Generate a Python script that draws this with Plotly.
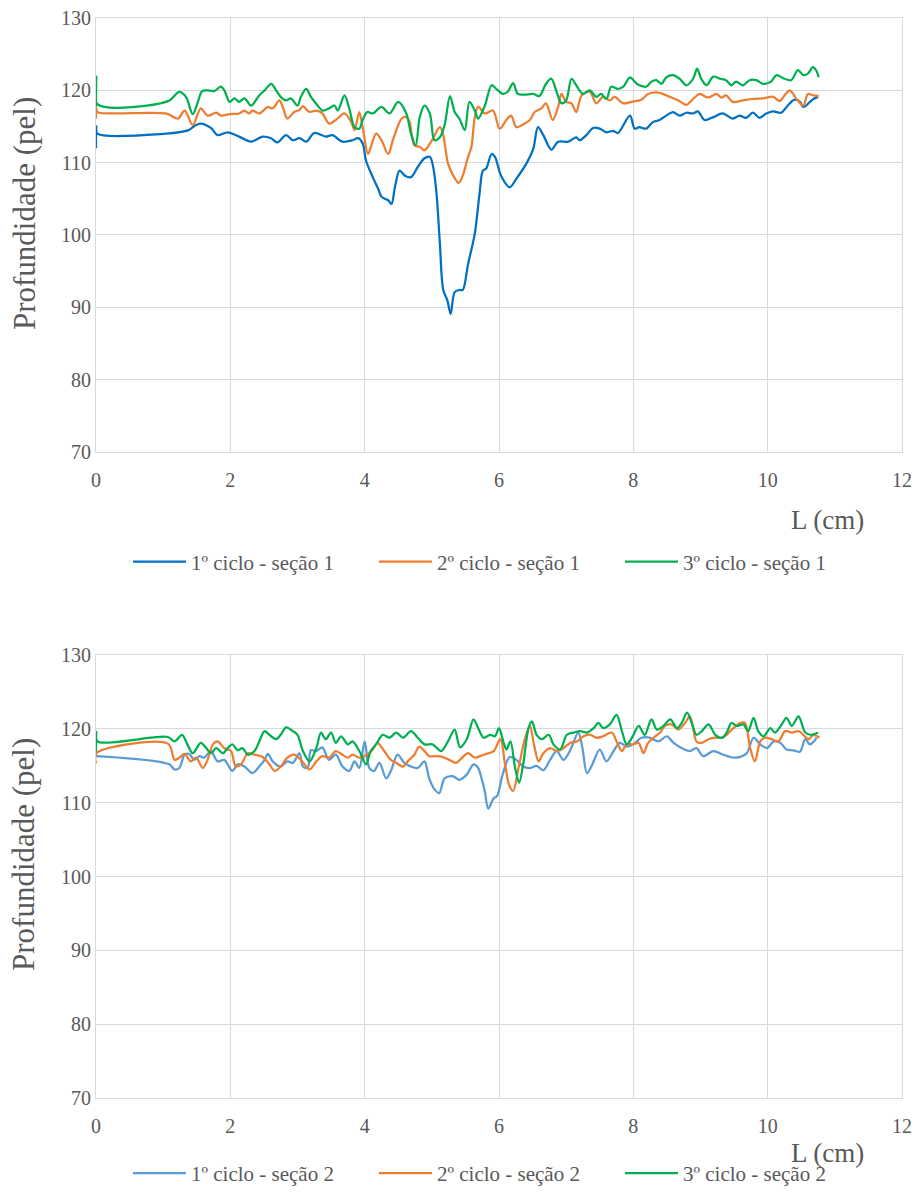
import plotly.graph_objects as go

# ---------------- Section 1 (top chart) ----------------
s1_c1_x = [0, 0.005, 0.02, 1.04, 1.29, 1.38, 1.49, 1.56, 1.71, 1.81,
           1.96, 2.13, 2.31, 2.48, 2.6, 2.7, 2.83, 2.93, 3.03, 3.13,
           3.25, 3.42, 3.52, 3.67, 3.82, 3.9, 3.97, 4.02, 4.12, 4.2,
           4.25, 4.3, 4.35, 4.4, 4.45, 4.52, 4.6, 4.69, 4.79, 4.89,
           4.97, 5.02, 5.07, 5.12, 5.17, 5.23, 5.28, 5.34, 5.41, 5.46,
           5.54, 5.64, 5.71, 5.76, 5.81, 5.89, 5.94, 6.03, 6.16, 6.26,
           6.41, 6.51, 6.58, 6.66, 6.78, 6.88, 7.03, 7.15, 7.2, 7.3,
           7.4, 7.5, 7.6, 7.7, 7.77, 7.95, 8.02, 8.09, 8.19, 8.29,
           8.39, 8.49, 8.59, 8.69, 8.79, 8.89, 8.96, 9.06, 9.19, 9.33,
           9.48, 9.58, 9.68, 9.78, 9.88, 9.98, 10.08, 10.2, 10.3, 10.4,
           10.48, 10.53, 10.63, 10.68, 10.75]
s1_c1_y = [112, 115, 114, 114, 114.3, 114.5, 115.2, 115.4, 114.8, 113.8,
           114.2, 113.6, 112.9, 113.6, 113.4, 112.8, 113.8, 113.1, 113.4, 112.9,
           114.1, 113.6, 113.8, 112.9, 113.1, 113.4, 112.7, 110.3, 108.0, 106.4,
           105.3, 105.0, 104.8, 104.3, 106.6, 108.9, 108.2, 108.0, 109.4, 110.6,
           110.8, 109.4, 105.7, 98.8, 92.4, 91.0, 89.1, 92.1, 92.4, 92.4,
           96.0, 100.2, 105.7, 108.9, 109.2, 111.2, 110.8, 108.2, 106.6, 107.8,
           109.9, 111.9, 114.9, 113.8, 111.8, 112.9, 112.9, 113.5, 113.1, 113.8,
           114.8, 114.7, 114.2, 114.4, 114.1, 116.5, 114.7, 114.9, 114.7, 115.6,
           115.9, 116.5, 117.0, 116.5, 116.9, 116.8, 117.1, 115.9, 116.3, 116.8,
           116.1, 116.5, 116.2, 116.9, 116.2, 116.8, 117.1, 116.9, 117.9, 118.7,
           118.4, 117.7, 118.4, 118.8, 119.1]

s1_c2_x = [0, 0.005, 0.02, 1.04, 1.22, 1.32, 1.44, 1.56, 1.66, 1.79,
           1.86, 1.99, 2.13, 2.21, 2.28, 2.33, 2.43, 2.56, 2.63, 2.73,
           2.78, 2.85, 2.95, 3.03, 3.08, 3.18, 3.28, 3.37, 3.47, 3.57,
           3.7, 3.8, 3.85, 3.92, 3.97, 4.05, 4.1, 4.17, 4.25, 4.35,
           4.42, 4.5, 4.55, 4.62, 4.67, 4.74, 4.82, 4.89, 4.99, 5.12,
           5.17, 5.24, 5.32, 5.4, 5.46, 5.54, 5.59, 5.64, 5.69, 5.79,
           5.91, 6.01, 6.11, 6.18, 6.26, 6.38, 6.46, 6.53, 6.63, 6.7,
           6.8, 6.88, 6.93, 7.0, 7.08, 7.15, 7.23, 7.35, 7.45, 7.55,
           7.65, 7.72, 7.85, 7.97, 8.12, 8.22, 8.34, 8.44, 8.54, 8.69,
           8.79, 8.89, 8.99, 9.11, 9.24, 9.31, 9.38, 9.48, 9.63, 9.78,
           9.93, 10.08, 10.18, 10.25, 10.33, 10.43, 10.53, 10.6, 10.68, 10.76]
s1_c2_y = [116.1, 117.5, 117.0, 116.8, 116.1, 117.2, 115.2, 117.5, 116.5, 116.9,
           116.5, 116.7, 116.8, 117.2, 116.8, 117.2, 116.8, 117.7, 117.5, 118.6,
           117.7, 116.1, 117.0, 117.3, 117.8, 117.0, 117.2, 116.8, 115.4, 115.9,
           116.8, 115.6, 114.5, 117.0, 114.9, 111.2, 112.4, 114.0, 113.1, 111.2,
           113.1, 115.2, 116.1, 116.3, 115.6, 112.4, 112.2, 111.7, 112.9, 114.9,
           113.8, 109.9, 108.2, 107.2, 108.2, 110.8, 112.2, 116.3, 117.7, 116.8,
           117.2, 114.7, 115.9, 116.5, 114.9, 115.4, 115.9, 117.0, 117.5, 118.2,
           115.9, 117.7, 119.5, 118.4, 118.2, 117.0, 119.3, 119.8, 118.2, 119.1,
           118.6, 119.1, 118.2, 118.4, 118.7, 119.5, 119.7, 119.5, 119.1, 118.5,
           118.0, 118.8, 119.5, 119.0, 119.5, 119.0, 119.3, 118.4, 118.6, 118.8,
           118.9, 119.1, 118.5, 119.3, 120.0, 118.8, 117.9, 119.5, 119.3, 119.2]

s1_c3_x = [0, 0.005, 0.02, 1.07, 1.24, 1.34, 1.44, 1.51, 1.58, 1.66,
           1.76, 1.86, 1.91, 1.99, 2.06, 2.13, 2.21, 2.31, 2.43, 2.51,
           2.61, 2.68, 2.75, 2.83, 2.9, 3.0, 3.05, 3.13, 3.2, 3.3,
           3.37, 3.47, 3.55, 3.6, 3.7, 3.77, 3.85, 3.92, 3.97, 4.04,
           4.12, 4.25, 4.37, 4.5, 4.62, 4.69, 4.76, 4.82, 4.89, 4.97,
           5.04, 5.12, 5.19, 5.27, 5.34, 5.41, 5.49, 5.56, 5.64, 5.69,
           5.79, 5.89, 5.96, 6.06, 6.13, 6.21, 6.28, 6.38, 6.51, 6.6,
           6.7, 6.78, 6.85, 6.93, 7.0, 7.08, 7.15, 7.25, 7.35, 7.45,
           7.52, 7.6, 7.67, 7.77, 7.85, 7.95, 8.04, 8.09, 8.19, 8.27,
           8.34, 8.42, 8.49, 8.59, 8.69, 8.79, 8.89, 8.95, 9.01, 9.09,
           9.19, 9.29, 9.38, 9.46, 9.53, 9.63, 9.73, 9.83, 9.93, 10.05,
           10.13, 10.25, 10.35, 10.45, 10.53, 10.6, 10.67, 10.72, 10.76]
s1_c3_y = [117.7, 121.9, 118.1, 118.5, 119.8, 119.1, 116.7, 118.2, 119.9, 120.0,
           119.9, 120.5, 120.0, 118.4, 118.9, 118.4, 118.9, 117.9, 119.3, 120.0,
           120.9, 120.0, 119.1, 118.6, 118.9, 117.9, 119.1, 120.2, 119.1, 117.9,
           117.2, 117.5, 117.9, 117.2, 119.3, 117.5, 114.9, 114.7, 115.9, 117.0,
           116.8, 117.7, 116.8, 118.4, 116.8, 114.0, 112.4, 116.3, 117.9, 116.8,
           113.1, 113.5, 115.2, 119.2, 117.0, 116.1, 114.5, 118.4, 117.2, 116.1,
           117.9, 120.7, 120.2, 119.5, 119.8, 121.0, 119.5, 119.4, 119.5, 119.2,
           120.9, 121.6, 120.0, 118.2, 118.6, 121.6, 120.7, 119.5, 120.0, 119.1,
           119.5, 118.8, 120.5, 120.2, 120.5, 121.8, 121.0, 120.7, 120.5, 121.2,
           121.4, 120.9, 121.8, 122.1, 121.6, 120.7, 121.6, 123.0, 121.6, 120.7,
           121.9, 121.6, 121.4, 120.7, 121.2, 120.7, 121.4, 121.4, 120.9, 121.2,
           122.1, 121.6, 121.4, 122.8, 122.1, 122.3, 123.2, 122.8, 121.8]

# ---------------- Section 2 (bottom chart) ----------------
s2_c1_x = [0, 1.09, 1.17, 1.24, 1.32, 1.39, 1.46, 1.54, 1.61, 1.71,
           1.81, 1.91, 2.03, 2.11, 2.21, 2.33, 2.43, 2.51, 2.56, 2.63,
           2.75, 2.85, 2.93, 3.03, 3.08, 3.15, 3.2, 3.28, 3.37, 3.47,
           3.57, 3.67, 3.77, 3.85, 3.92, 4.0, 4.07, 4.14, 4.22, 4.32,
           4.39, 4.49, 4.59, 4.69, 4.79, 4.89, 4.96, 5.04, 5.11, 5.19,
           5.31, 5.41, 5.52, 5.62, 5.69, 5.74, 5.79, 5.84, 5.92, 5.97,
           6.06, 6.16, 6.26, 6.36, 6.46, 6.56, 6.66, 6.76, 6.86, 6.96,
           7.06, 7.18, 7.24, 7.31, 7.38, 7.5, 7.6, 7.7, 7.8, 7.9,
           8.0, 8.12, 8.25, 8.37, 8.5, 8.6, 8.72, 8.84, 8.94, 9.04,
           9.19, 9.34, 9.49, 9.59, 9.69, 9.79, 9.89, 9.99, 10.09, 10.19,
           10.28, 10.38, 10.48, 10.56, 10.63, 10.73]
s2_c1_y = [116.3, 115.2, 114.5, 114.7, 116.5, 116.6, 115.8, 116.3, 116.1, 117.0,
           115.6, 115.8, 114.3, 115.2, 114.9, 114.0, 114.9, 115.8, 116.6, 115.6,
           114.9, 115.6, 115.4, 116.7, 114.9, 114.7, 117.1, 117.0, 117.5, 115.8,
           116.5, 114.9, 114.3, 115.6, 114.7, 118.3, 114.7, 114.3, 115.4, 113.3,
           114.3, 116.5, 115.4, 114.9, 114.7, 115.6, 113.3, 111.8, 111.3, 113.3,
           113.6, 113.1, 113.8, 115.2, 114.7, 113.3, 111.5, 109.2, 110.6, 110.9,
           114.0, 116.2, 115.8, 114.9, 114.7, 115.0, 114.4, 115.8, 117.0, 115.8,
           117.1, 119.5, 117.5, 114.0, 115.0, 117.2, 115.6, 116.9, 118.1, 117.6,
           117.9, 118.8, 118.8, 118.3, 119.0, 118.1, 117.4, 117.0, 117.4, 116.3,
           117.0, 116.5, 116.1, 116.2, 116.7, 118.8, 117.9, 117.4, 118.3, 118.1,
           117.2, 117.1, 116.9, 118.6, 117.9, 118.8]

s2_c2_x = [0, 0.005, 1.07, 1.17, 1.24, 1.32, 1.41, 1.49, 1.59, 1.66,
           1.74, 1.81, 1.91, 2.01, 2.08, 2.16, 2.26, 2.36, 2.48, 2.58,
           2.66, 2.75, 2.85, 2.95, 3.05, 3.18, 3.28, 3.37, 3.47, 3.57,
           3.67, 3.75, 3.82, 3.92, 4.04, 4.12, 4.19, 4.29, 4.39, 4.47,
           4.57, 4.64, 4.74, 4.81, 4.89, 4.96, 5.06, 5.16, 5.26, 5.36,
           5.44, 5.54, 5.64, 5.77, 5.92, 6.02, 6.09, 6.15, 6.21, 6.29,
           6.39, 6.46, 6.52, 6.59, 6.66, 6.76, 6.86, 6.96, 7.06, 7.16,
           7.26, 7.36, 7.45, 7.55, 7.68, 7.75, 7.83, 7.9, 8.0, 8.08,
           8.15, 8.22, 8.3, 8.4, 8.47, 8.57, 8.67, 8.77, 8.84, 8.89,
           8.94, 9.02, 9.12, 9.22, 9.32, 9.39, 9.49, 9.59, 9.66, 9.74,
           9.81, 9.89, 9.96, 10.06, 10.16, 10.26, 10.36, 10.46, 10.53, 10.61,
           10.68, 10.77]
s2_c2_y = [115.3, 116.7, 118.0, 115.8, 116.1, 116.6, 115.6, 116.1, 114.7, 115.8,
           117.9, 118.3, 117.4, 117.0, 114.9, 115.2, 116.7, 116.5, 116.2, 115.2,
           114.3, 114.9, 116.1, 116.5, 115.8, 114.5, 115.6, 116.3, 116.1, 117.0,
           116.5, 116.1, 116.5, 116.1, 116.5, 117.2, 118.1, 117.0, 115.8, 115.4,
           114.9, 115.6, 116.5, 117.6, 117.0, 116.3, 116.3, 116.2, 115.8, 115.4,
           116.0, 116.7, 116.1, 116.5, 117.0, 118.6, 115.2, 112.4, 111.6, 114.7,
           118.8, 120.4, 117.9, 115.6, 116.7, 117.4, 117.0, 117.4, 118.1, 118.3,
           119.0, 119.2, 118.8, 119.0, 119.5, 118.3, 117.0, 117.9, 117.9, 118.1,
           116.7, 118.1, 118.8, 119.5, 120.4, 120.6, 119.9, 120.8, 121.7, 120.1,
           118.3, 118.1, 118.6, 118.8, 118.8, 119.2, 120.1, 120.8, 120.8, 117.4,
           115.6, 118.3, 118.8, 118.6, 118.3, 119.7, 119.5, 119.7, 119.2, 118.6,
           119.2, 118.8]

s2_c3_x = [0, 0.005, 0.02, 1.07, 1.17, 1.28, 1.36, 1.44, 1.56, 1.64,
           1.71, 1.79, 1.89, 1.96, 2.03, 2.11, 2.18, 2.26, 2.36, 2.43,
           2.51, 2.58, 2.68, 2.75, 2.83, 2.93, 3.0, 3.08, 3.18, 3.28,
           3.35, 3.42, 3.5, 3.57, 3.65, 3.75, 3.82, 3.92, 4.02, 4.09,
           4.17, 4.27, 4.37, 4.47, 4.57, 4.69, 4.79, 4.89, 5.01, 5.14,
           5.24, 5.34, 5.42, 5.52, 5.62, 5.69, 5.77, 5.87, 5.94, 6.0,
           6.07, 6.11, 6.17, 6.24, 6.3, 6.36, 6.44, 6.49, 6.56, 6.64,
           6.74, 6.81, 6.91, 7.01, 7.11, 7.21, 7.31, 7.41, 7.48, 7.55,
           7.65, 7.75, 7.83, 7.9, 7.98, 8.08, 8.17, 8.27, 8.35, 8.45,
           8.55, 8.65, 8.72, 8.8, 8.87, 8.94, 9.02, 9.12, 9.22, 9.32,
           9.39, 9.46, 9.54, 9.64, 9.71, 9.79, 9.86, 9.94, 10.04, 10.11,
           10.21, 10.28, 10.36, 10.46, 10.56, 10.65, 10.75]
s2_c3_y = [116.9, 119.6, 118.3, 118.9, 118.3, 119.2, 117.9, 116.7, 118.1, 117.4,
           116.7, 117.4, 116.7, 117.4, 117.9, 117.1, 117.4, 116.5, 117.0, 118.3,
           119.7, 119.2, 118.6, 119.2, 120.2, 119.7, 119.2, 117.0, 115.6, 117.4,
           119.5, 118.6, 119.5, 118.1, 119.0, 117.9, 118.3, 117.0, 115.2, 117.0,
           117.9, 119.2, 118.8, 119.5, 118.8, 119.7, 118.8, 117.9, 117.9, 117.0,
           118.3, 119.9, 117.5, 118.6, 121.3, 120.1, 118.8, 119.2, 119.0, 120.1,
           118.1, 117.2, 118.3, 114.7, 112.7, 115.2, 120.1, 121.0, 119.2, 118.6,
           119.2, 117.9, 117.2, 119.2, 119.5, 119.7, 119.5, 120.1, 120.8, 120.1,
           120.6, 121.9, 119.7, 117.9, 118.8, 120.4, 119.2, 121.3, 119.9, 120.4,
           121.3, 120.1, 120.8, 122.2, 120.8, 119.2, 119.7, 120.6, 119.2, 118.8,
           119.5, 120.8, 120.4, 120.6, 119.7, 121.5, 119.7, 119.0, 120.1, 119.5,
           120.6, 121.5, 120.4, 121.7, 119.5, 119.2, 119.5]

names_s1 = ["1º ciclo - seção 1", "2º ciclo - seção 1", "3º ciclo - seção 1"]
names_s2 = ["1º ciclo - seção 2", "2º ciclo - seção 2", "3º ciclo - seção 2"]
colors_s1 = ["#0070C0", "#ED7D31", "#00B050"]
colors_s2 = ["#5B9BD5", "#ED7D31", "#00B050"]

x_ticks = [0, 2, 4, 6, 8, 10, 12]
y_ticks = [70, 80, 90, 100, 110, 120, 130]

FONT = "Liberation Serif"
GRID = "#D9D9D9"
TXT = "#595959"

fig = go.Figure()
for xs, ys, nm, col in zip([s1_c1_x, s1_c2_x, s1_c3_x], [s1_c1_y, s1_c2_y, s1_c3_y], names_s1, colors_s1):
    fig.add_trace(go.Scatter(x=xs, y=ys, name=nm, mode="lines",
                             line=dict(color=col, width=2.25, shape="spline", smoothing=0.9),
                             xaxis="x", yaxis="y", legend="legend"))
for xs, ys, nm, col in zip([s2_c1_x, s2_c2_x, s2_c3_x], [s2_c1_y, s2_c2_y, s2_c3_y], names_s2, colors_s2):
    fig.add_trace(go.Scatter(x=xs, y=ys, name=nm, mode="lines",
                             line=dict(color=col, width=2.25, shape="spline", smoothing=0.9),
                             xaxis="x2", yaxis="y2", legend="legend2"))

axis_common = dict(showgrid=True, gridcolor=GRID, gridwidth=1, zeroline=False,
                   showline=True, linecolor=GRID, linewidth=1, mirror=True, automargin=False,
                   ticks="", tickfont=dict(family=FONT, size=20, color=TXT))

legend_common = dict(orientation="h", x=0.4975, xanchor="center",
                     font=dict(family=FONT, size=21, color=TXT),
                     itemwidth=53, entrywidth=178, entrywidthmode="pixels",
                     bgcolor="rgba(0,0,0,0)")

# paper area spans from the top margin down to the bottom edge of the figure
fig.update_layout(
    width=915, height=1194,
    margin=dict(l=96, r=13, t=18, b=0),
    paper_bgcolor="white", plot_bgcolor="white",
    font=dict(family=FONT, color=TXT),
    xaxis=dict(domain=[0, 1], anchor="y", range=[0, 12], tickvals=x_ticks, ticklabelstandoff=10, **axis_common),
    yaxis=dict(domain=[0.6310, 1], anchor="x", range=[70, 130], tickvals=y_ticks, **axis_common),
    xaxis2=dict(domain=[0, 1], anchor="y2", range=[0, 12], tickvals=x_ticks, ticklabelstandoff=10, **axis_common),
    yaxis2=dict(domain=[0.0816, 0.4583], anchor="x2", range=[70, 130], tickvals=y_ticks, **axis_common),
    legend=dict(y=0.5374, yanchor="middle", **legend_common),
    legend2=dict(y=0.0, yanchor="bottom", **legend_common),
    annotations=[
        dict(text="L (cm)", xref="paper", yref="paper", x=0.907, y=0.5731, xanchor="center", yanchor="middle",
             showarrow=False, font=dict(family=FONT, size=27, color=TXT)),
        dict(text="L (cm)", xref="paper", yref="paper", x=0.907, y=0.0349, xanchor="center", yanchor="middle",
             showarrow=False, font=dict(family=FONT, size=27, color=TXT)),
        dict(text="Profundidade (pel)", xref="paper", yref="paper", x=-0.0893, y=0.8333, textangle=-90,
             xanchor="center", yanchor="middle", showarrow=False, font=dict(family=FONT, size=31, color=TXT)),
        dict(text="Profundidade (pel)", xref="paper", yref="paper", x=-0.0893, y=0.2883, textangle=-90,
             xanchor="center", yanchor="middle", showarrow=False, font=dict(family=FONT, size=31, color=TXT)),
    ],
)

post = ("document.body.style.margin='0';document.body.style.overflow='hidden';"
        "var gd=document.getElementById('{plot_id}');Plotly.relayout(gd,{width:915,height:1194});")
fig.write_html("out.html", post_script=post, config={"displayModeBar": False})
